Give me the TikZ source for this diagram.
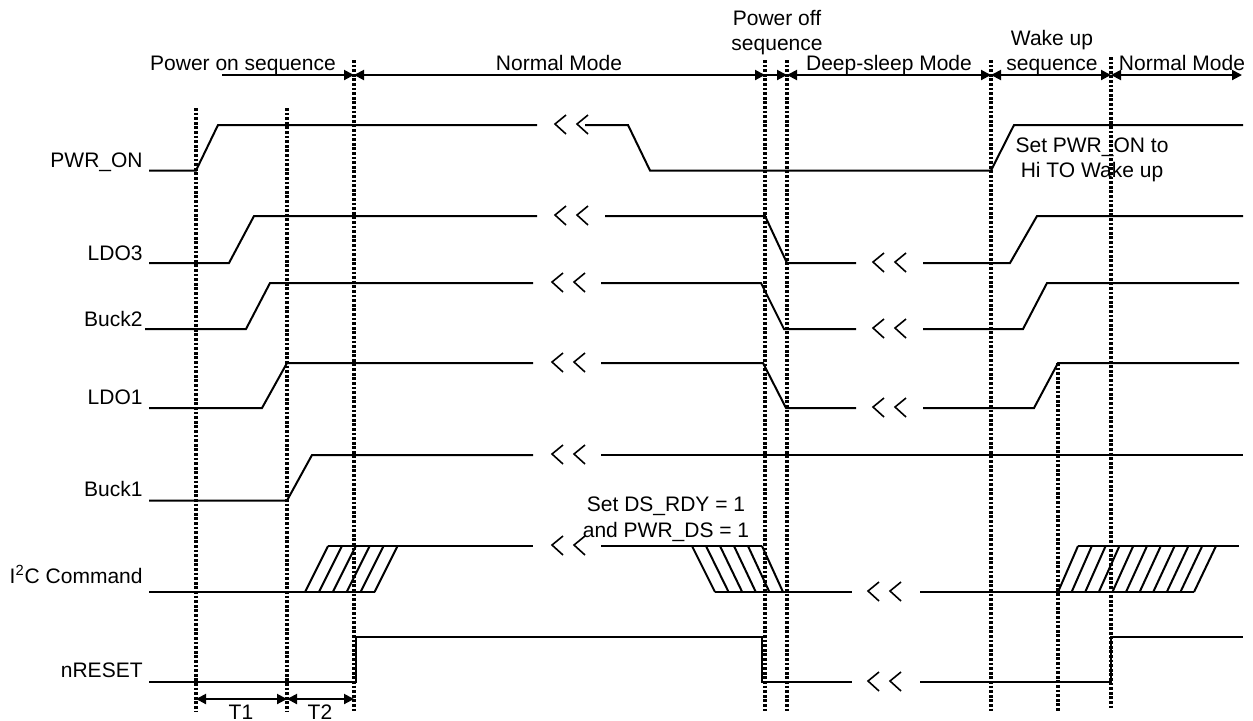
\documentclass[tikz,border=0pt]{standalone}
\usepackage{fontspec}
\setmainfont{Liberation Sans}
\usetikzlibrary{arrows.meta}
\newcommand\brkmark[2]{%
  \draw[brk] (#1+11,#2-10) -- (#1,#2-1) -- (#1+11,#2+9);
  \draw[brk] (#1+22+11,#2-10) -- (#1+22,#2-1) -- (#1+22+11,#2+9);}
\begin{document}
\begin{tikzpicture}[x=0.5pt,y=-0.5pt,
  sig/.style={line width=1pt, line join=miter},
  brk/.style={line width=0.8pt},
  vdot/.style={line width=1.6pt, dash pattern=on 1.4pt off 0.9pt},
  hdr/.style={line width=1pt},
  tipr/.style={-{Triangle[length=5pt,width=5pt]}},
  tipb/.style={{Triangle[length=5pt,width=5pt]}-{Triangle[length=5pt,width=5pt]}},
  txt/.style={font=\fontsize{10.5}{12}\selectfont, inner sep=0pt},
  lbl/.style={txt, anchor=base east},
  ctr/.style={txt, anchor=base}]
\useasboundingbox (0,0) rectangle (1253,720);
\fill[white] (0,0) rectangle (1253,720);

% vertical dotted lines
\draw[vdot] (196,108) -- (196,712);
\draw[vdot] (287,108) -- (287,712);
\draw[vdot] (354,60) -- (354,712);
\draw[vdot] (765,60) -- (765,713);
\draw[vdot] (787,60) -- (787,713);
\draw[vdot] (991,60) -- (991,712);
\draw[vdot] (1111,57) -- (1111,710);
\draw[vdot] (1058,363) -- (1058,712);

% header
\coordinate (h0) at (222,75);
\coordinate (h1) at (354,75);
\coordinate (h2) at (765,75);
\coordinate (h3) at (787,75);
\coordinate (h4) at (991,75);
\coordinate (h5) at (1111,75);
\coordinate (h6) at (1242,75);
\draw[hdr,tipr] (h0) -- (h1);
\draw[hdr,tipb] (h1) -- (h2);
\draw[hdr,tipr] (h2) -- (h3);
\draw[hdr,tipb] (h3) -- (h4);
\draw[hdr,tipb] (h4) -- (h5);
\draw[hdr,tipb] (h5) -- (h6);
\node[ctr] (pon) at (243,70) {Power on sequence};
\node[ctr] (nm1) at (559,70) {Normal Mode};
\node[ctr] (poffa) at (777,25) {Power off};
\node[ctr] (poffb) at (777,50) {sequence};
\node[ctr] (ds) at (889,70) {Deep-sleep Mode};
\node[ctr] (wua) at (1052,45) {Wake up};
\node[ctr] (wub) at (1052,70) {sequence};
\node[ctr] (nm2) at (1182,70) {Normal Mode};

% row labels
\node[lbl] (lpwr) at (143,167) {PWR\_ON};
\node[lbl] (lldo3) at (143,260) {LDO3};
\node[lbl] (lbuck2) at (143,326) {Buck2};
\node[lbl] (lldo1) at (143,404) {LDO1};
\node[lbl] (lbuck1) at (143,496) {Buck1};
\node[lbl] (li2c) at (143,583) {I\textsuperscript{2}C Command};
\node[lbl] (lnrst) at (143,677) {nRESET};

% PWR_ON
\draw[sig] (149,170.5) -- (196,170.5) -- (218,125) -- (537,125);
\brkmark{555}{125}
\draw[sig] (585,125) -- (628,125) -- (650,170.5) -- (991,170.5) -- (1014,125) -- (1243,125);

% LDO3
\draw[sig] (149,263) -- (229,263) -- (254,216) -- (537,216);
\brkmark{555}{216}
\draw[sig] (605,216) -- (765,216) -- (787,263) -- (856,263);
\brkmark{873}{263}
\draw[sig] (923,263) -- (1010,263) -- (1037,216) -- (1243,216);

% Buck2
\draw[sig] (145,329) -- (246,329) -- (270,283) -- (533,283);
\brkmark{552}{283}
\draw[sig] (601,283) -- (761,283) -- (784,329) -- (856,329);
\brkmark{873}{329}
\draw[sig] (923,329) -- (1023,329) -- (1047,283) -- (1239,283);

% LDO1
\draw[sig] (149,408) -- (262,408) -- (287,363) -- (533,363);
\brkmark{552}{363}
\draw[sig] (601,363) -- (763,363) -- (786,408) -- (856,408);
\brkmark{873}{408}
\draw[sig] (923,408) -- (1034,408) -- (1058,363) -- (1239,363);

% Buck1
\draw[sig] (149,500.5) -- (287,500.5) -- (312,455) -- (533,455);
\brkmark{552}{455}
\draw[sig] (601,455) -- (1243,455);

% I2C
\draw[sig] (149,592) -- (375,592);
\draw[sig] (328,546) -- (533,546);
\foreach \i in {0,...,5} \draw[sig] (305+13.9*\i,592) -- (328+13.9*\i,546);
\brkmark{552}{546}
\draw[sig] (601,546) -- (762,546);
\foreach \i in {0,...,5} \draw[sig] (692+14*\i,546) -- (715+13.6*\i,592);
\draw[sig] (715,592) -- (852,592);
\brkmark{868}{592}
\draw[sig] (920,592) -- (1194,592);
\foreach \i in {0,...,10} \draw[sig] (1058+13.6*\i,592) -- (1078+13.8*\i,546);
\draw[sig] (1078,546) -- (1239,546);
\node[ctr] (dsa) at (666,511) {Set DS\_RDY = 1};
\node[ctr] (dsb) at (666,537) {and PWR\_DS = 1};

% nRESET
\draw[sig] (149,682) -- (356,682) -- (356,637) -- (762,637) -- (762,682) -- (852,682);
\brkmark{868}{682}
\draw[sig] (920,682) -- (1111,682) -- (1111,637) -- (1243,637);

% wake-up note
\node[ctr] (wka) at (1092,152) {Set PWR\_ON to};
\node[ctr] (wkb) at (1092,177) {Hi TO Wake up};

% T1 T2
\coordinate (t0) at (196,699);
\coordinate (t1) at (287,699);
\coordinate (t2) at (354,699);
\draw[hdr,tipb] (t0) -- (t1);
\draw[hdr,tipb] (t1) -- (t2);
\node[ctr] (lt1) at (241,719) {T1};
\node[ctr] (lt2) at (320,719) {T2};
\end{tikzpicture}
\end{document}
